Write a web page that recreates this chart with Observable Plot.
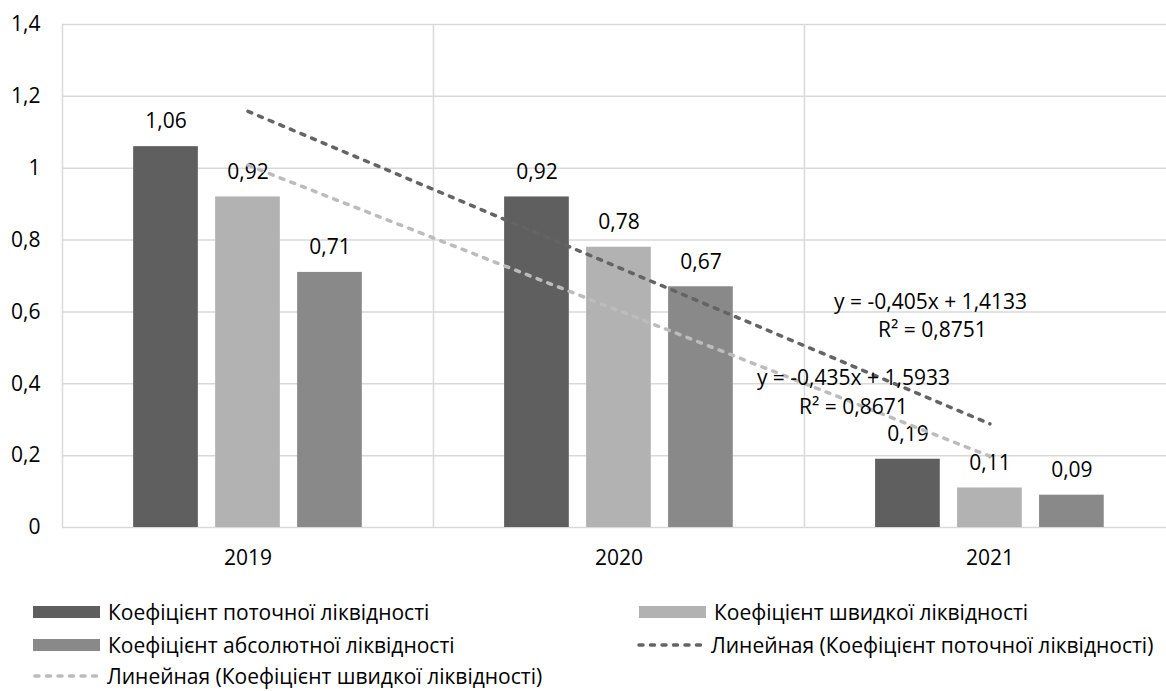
<!DOCTYPE html>
<html><head><meta charset="utf-8">
<script src="https://cdn.jsdelivr.net/npm/d3@7"></script>
<script src="https://cdn.jsdelivr.net/npm/@observablehq/plot@0.6"></script>
<style>
body{margin:0;background:#fff;font-family:"Open Sans",sans-serif;}
#wrap{position:relative;width:1166px;height:691px;overflow:hidden;}
#chart{position:absolute;left:0;top:0;}
.leg{position:absolute;display:flex;align-items:center;font-size:21px;line-height:20px;color:#000;white-space:nowrap;height:20px;}
.leg .sw{display:inline-block;width:67px;height:12px;margin-right:8px;}
.leg svg{margin-right:8px;}
</style></head><body><div id="wrap"><div id="chart"></div></div>
<script>
// ---- data ----
const years = ["2019", "2020", "2021"];
const seriesNames = ["Коефіцієнт поточної ліквідності", "Коефіцієнт швидкої ліквідності", "Коефіцієнт абсолютної ліквідності"];
const current = [1.06, 0.92, 0.19];
const quick = [0.92, 0.78, 0.11];
const absolute = [0.71, 0.67, 0.09];
const yTicks = [0, 0.2, 0.4, 0.6, 0.8, 1, 1.2, 1.4];
const trendNames = ["Линейная (Коефіцієнт поточної ліквідності)", "Линейная (Коефіцієнт швидкої ліквідності)"];
const eqTexts = ["y = -0,405x + 1,4133", "R² = 0,8751", "y = -0,435x + 1,5933", "R² = 0,8671"];

// ---- styles ----
const barColors = ["#5f5f5f", "#b2b2b2", "#898989"];
const trendColors = ["#646464", "#bcbcbc"];
const gridColor = "#d9d9d9";
const fmt = v => String(+v.toFixed(2)).replace(".", ",");

const seriesValues = [current, quick, absolute];
const offsets = [-0.221, 0, 0.221];
const barW = 0.1744;
const rows = [];
seriesValues.forEach((vals, k) => vals.forEach((v, i) => rows.push({k, x: i + 1, value: v})));
const xs = years.map((y, i) => i + 1);

const marks = [
  Plot.ruleY(yTicks, {stroke: gridColor, strokeWidth: 1.5}),
  Plot.ruleX([0.5, 1.5, 2.5], {y1: 0, y2: 1.4, stroke: gridColor, strokeWidth: 1.5}),
  Plot.axisY({ticks: yTicks, tickFormat: fmt, tickSize: 0, tickPadding: 22, label: null}),
  Plot.axisX({ticks: xs, tickFormat: d => years[d - 1], tickSize: 0, tickPadding: 23, label: null})
];
seriesValues.forEach((vals, k) => {
  const data = rows.filter(r => r.k === k);
  marks.push(Plot.rectY(data, {
    x1: d => d.x + offsets[k] - barW / 2,
    x2: d => d.x + offsets[k] + barW / 2,
    y1: 0, y2: "value", fill: barColors[k]
  }));
  marks.push(Plot.text(data, {
    x: d => d.x + offsets[k], y: "value", text: d => fmt(d.value), dy: -25, fill: "#000"
  }));
});
[current, quick].forEach((vals, k) => {
  marks.push(Plot.linearRegressionY(xs.map((x, i) => ({x, y: vals[i]})), {
    x: "x", y: "y", ci: 0, stroke: trendColors[k], strokeWidth: 3.5,
    strokeDasharray: "4,7.5", strokeLinecap: "round"
  }));
});
const eqPos = [[2.84, 0.628], [2.845, 0.549], [2.632, 0.415], [2.632, 0.334]];
marks.push(Plot.text(eqTexts, {
  x: (d, i) => eqPos[i][0], y: (d, i) => eqPos[i][1], text: d => d, fill: "#000"
}));

const plot = Plot.plot({
  width: 1166, height: 585,
  marginLeft: 62, marginRight: 0, marginTop: 24, marginBottom: 58,
  x: {type: "linear", domain: [0.5, 3.476]},
  y: {domain: [0, 1.4]},
  style: {fontFamily: "'Open Sans', sans-serif", fontSize: "21px", color: "#000", background: "#fff"},
  marks
});
document.getElementById("chart").appendChild(plot);

// ---- legend ----
const wrap = document.getElementById("wrap");
function addItem(left, cy, html, label) {
  const d = document.createElement("div");
  d.className = "leg";
  d.style.left = left + "px";
  d.style.top = (cy - 10) + "px";
  d.innerHTML = html;
  const s = document.createElement("span");
  s.textContent = label;
  d.appendChild(s);
  wrap.appendChild(d);
}
const sw = c => `<span class="sw" style="background:${c}"></span>`;
const dash = c => `<svg width="67" height="12"><line x1="3" y1="6" x2="65" y2="6" stroke="${c}" stroke-width="3.5" stroke-linecap="round" stroke-dasharray="4,7.5"/></svg>`;
addItem(33, 612, sw(barColors[0]), seriesNames[0]);
addItem(639, 612, sw(barColors[1]), seriesNames[1]);
addItem(33, 645, sw(barColors[2]), seriesNames[2]);
addItem(636, 645, dash(trendColors[0]), trendNames[0]);
addItem(32, 676, dash(trendColors[1]), trendNames[1]);
</script></body></html>
